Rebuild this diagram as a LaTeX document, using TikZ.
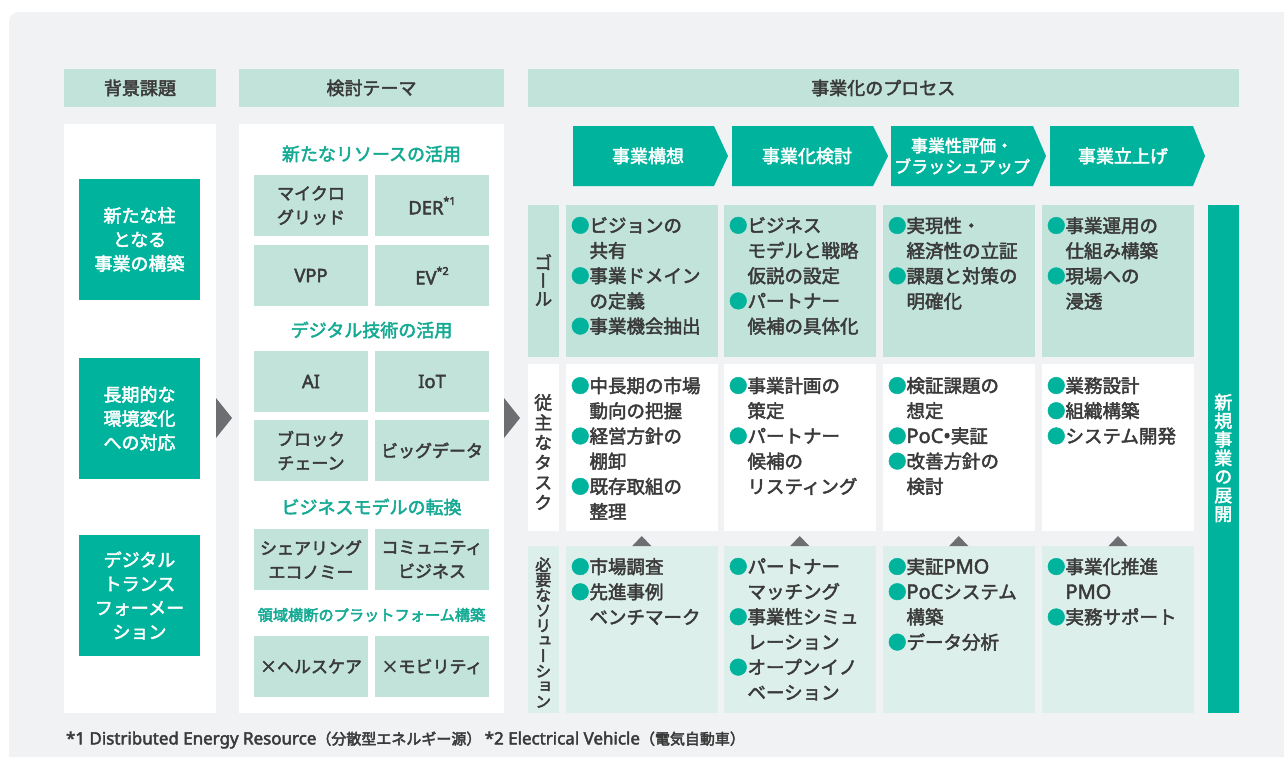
\documentclass[tikz,border=0pt]{standalone}
\usepackage{fontspec}
\usepackage{graphicx}
\setmainfont{Noto Sans CJK JP}
\newfontfamily\lat{Noto Sans}[Scale=1.08]
\newfontfamily\vjp{Noto Sans CJK JP}[RawFeature=+vert]
\definecolor{cTeal}{HTML}{00B39D}
\definecolor{cMint}{HTML}{C1E3DA}
\definecolor{cLight}{HTML}{DDEFEA}
\definecolor{cPanel}{HTML}{F0F2F4}
\definecolor{cText}{HTML}{3A3A3A}
\definecolor{cGrey}{HTML}{6D6E71}
\definecolor{cTealText}{HTML}{14AA93}
\newcommand\fs[2]{\fontsize{#1}{#2}\selectfont}
\newcommand\bl{\textcolor{cTeal}{●}}
\newcommand\ii{\hspace*{1em}}
\newcommand\mysup[1]{\raisebox{0.55em}{\fs{10}{10}\lat #1}}
\newcommand\emb{\special{pdf:literal direct 2 Tr 0.45 w}}
\tikzset{
  every node/.style={inner sep=0pt, outer sep=0pt, execute at begin node={\emb}},
  hdr/.style={fill=cMint, text=cText, font=\fs{18}{22}, minimum height=38pt},
  gbox/.style={fill=cTeal, text=white, align=center, font=\fs{18}{24}, minimum width=121pt, minimum height=121pt},
  sbox/.style={fill=cMint, text=cText, align=center, font=\fs{17}{24}, minimum width=114pt, minimum height=61pt},
  subhd/.style={text=cTealText, font=\fs{18}{22}},
  cellbox/.style={minimum width=151.5pt},
  txt/.style={anchor=north west, align=left, text=cText, font=\fs{18.5}{25.2}},
  vlab/.style={align=center, text=cText},
  chevtxt/.style={text=white, align=center, font=\fs{18}{21}},
}
\begin{document}
\begin{tikzpicture}[x=1pt,y=-1pt]
\useasboundingbox (0,0) rectangle (1284,758);
\fill[white] (0,0) rectangle (1284,758);
\fill[cPanel] (9,757) [rounded corners=10pt] -- (9,12) [sharp corners] -- (1284,12) -- (1284,757) -- cycle;

% headers
\node[hdr, minimum width=152pt] (h1) at (140,88) {背景課題};
\node[hdr, minimum width=265pt] (h2) at (371.5,88) {検討テーマ};
\node[hdr, minimum width=710.5pt] (h3) at (883.25,88) {事業化のプロセス};

% white columns
\node[fill=white, minimum width=152pt, minimum height=589pt] (c1) at (140,418.5) {};
\node[fill=white, minimum width=265pt, minimum height=589pt] (c2) at (371.5,418.5) {};

% background issues
\node[gbox] (g1) at (139.5,239.5) {新たな柱\\となる\\事業の構築};
\node[gbox] (g2) at (139.5,418.5) {長期的な\\環境変化\\への対応};
\node[gbox] (g3) at (139.5,595.5) {デジタル\\トランス\\フォーメー\\ション};

% themes
\node[subhd] (s1) at (371.5,154) {新たなリソースの活用};
\node[subhd] (s2) at (371.5,330) {デジタル技術の活用};
\node[subhd] (s3) at (371.5,507) {ビジネスモデルの転換};
\node[subhd, font=\fs{15.2}{18}] (s4) at (371.5,615) {領域横断のプラットフォーム構築};

\node[sbox] (b1) at (311,205.5) {マイクロ\\グリッド};
\node[sbox] (b2) at (432,205.5) {{\lat DER}\mysup{*1}};
\node[sbox] (b3) at (311,275.5) {{\lat VPP}};
\node[sbox] (b4) at (432,275.5) {{\lat EV}\mysup{*2}};
\node[sbox] (b5) at (311,381.5) {{\lat AI}};
\node[sbox] (b6) at (432,381.5) {{\lat IoT}};
\node[sbox] (b7) at (311,450.5) {ブロック\\チェーン};
\node[sbox] (b8) at (432,450.5) {ビッグデータ};
\node[sbox] (b9) at (311,559.5) {シェアリング\\エコノミー};
\node[sbox] (b10) at (432,559.5) {コミュニティ\\ビジネス};
\node[sbox] (b11) at (311,666.5) {×ヘルスケア};
\node[sbox] (b12) at (432,666.5) {×モビリティ};

% big arrows
\fill[cGrey] (216,398) -- (232,418) -- (216,438) -- cycle;
\fill[cGrey] (504,398) -- (520,418) -- (504,438) -- cycle;

% chevrons
\fill[cTeal] (573,126) -- (714,126) -- (728,156) -- (714,186) -- (573,186) -- cycle;
\fill[cTeal] (732,126) -- (873,126) -- (888,156) -- (873,186) -- (732,186) -- cycle;
\fill[cTeal] (891,126) -- (1033,126) -- (1046,156) -- (1033,186) -- (891,186) -- cycle;
\fill[cTeal] (1050,126) -- (1193,126) -- (1205,156) -- (1193,186) -- (1050,186) -- cycle;
\node[chevtxt] (p1) at (648,156) {事業構想};
\node[chevtxt] (p2) at (807,156) {事業化検討};
\node[chevtxt, font=\fs{17}{21}] (p3) at (962,156) {事業性評価・\\ブラッシュアップ};
\node[chevtxt] (p4) at (1123,156) {事業立上げ};

% row labels
\node[fill=cMint, minimum width=30.5pt, minimum height=151.7pt] (rg) at (543.25,280.85) {};
\node[fill=white, minimum width=30.5pt, minimum height=167pt] (rt) at (543.25,447.5) {};
\node[fill=cLight, minimum width=30.5pt, minimum height=166.7pt] (rs) at (543.25,629.35) {};
\node[vlab, font=\vjp\fs{18}{18}] (lg) at (543.25,280) {ゴ\\ー\\ル};
\node[vlab, font=\vjp\fs{18}{20}] (lt) at (543.25,452) {従\\主\\な\\タ\\ス\\ク};
\node[vlab, font=\vjp\fs{16}{15.2}] (ls) at (543.25,632.5) {必\\要\\な\\ソ\\リ\\ュ\\ー\\シ\\ョ\\ン};

% right bar
\node[fill=cTeal, minimum width=30.5pt, minimum height=507.7pt] (nb) at (1223.25,458.85) {};
\node[vlab, text=white, font=\vjp\fs{18}{18.6}] (nbt) at (1223.25,458) {新\\規\\事\\業\\の\\展\\開};

% cells
\foreach \cx [count=\i] in {641.75,799.75,958.75,1118} {
  \node[cellbox, fill=cMint, minimum height=151.7pt] (g\i c) at (\cx,280.85) {};
  \node[cellbox, fill=white, minimum height=167pt] (t\i c) at (\cx,447.5) {};
  \node[cellbox, fill=cLight, minimum height=166.7pt] (s\i c) at (\cx,629.35) {};
  \fill[cGrey] (\cx-9.5,546) -- (\cx,536) -- (\cx+9.5,546) -- cycle;
}

% goal texts
\node[txt] (gt1) at (571,217) {\bl ビジョンの\\\ii 共有\\\bl 事業ドメイン\\\ii の定義\\\bl 事業機会抽出};
\node[txt] (gt2) at (729,217) {\bl ビジネス\\\ii モデルと戦略\\\ii 仮説の設定\\\bl パートナー\\\ii 候補の具体化};
\node[txt] (gt3) at (888,217) {\bl 実現性・\\\ii 経済性の立証\\\bl 課題と対策の\\\ii 明確化};
\node[txt] (gt4) at (1047,217) {\bl 事業運用の\\\ii 仕組み構築\\\bl 現場への\\\ii 浸透};

% task texts
\node[txt] (tt1) at (571,377) {\bl 中長期の市場\\\ii 動向の把握\\\bl 経営方針の\\\ii 棚卸\\\bl 既存取組の\\\ii 整理};
\node[txt] (tt2) at (729,377) {\bl 事業計画の\\\ii 策定\\\bl パートナー\\\ii 候補の\\\ii リスティング};
\node[txt] (tt3) at (888,377) {\bl 検証課題の\\\ii 想定\\\bl{\lat PoC•}実証\\\bl 改善方針の\\\ii 検討};
\node[txt] (tt4) at (1047,377) {\bl 業務設計\\\bl 組織構築\\\bl システム開発};

% solution texts
\node[txt] (st1) at (571,558) {\bl 市場調査\\\bl 先進事例\\\ii ベンチマーク};
\node[txt] (st2) at (729,558) {\bl パートナー\\\ii マッチング\\\bl 事業性シミュ\\\ii レーション\\\bl オープンイノ\\\ii ベーション};
\node[txt] (st3) at (888,558) {\bl 実証{\lat PMO}\\\bl{\lat PoC}システム\\\ii 構築\\\bl データ分析};
\node[txt] (st4) at (1047,558) {\bl 事業化推進\\\ii{\lat PMO}\\\bl 実務サポート};

% footnote
\node[anchor=west, text=cText, font=\fs{15}{18}] (fn) at (66,740) {{\lat\fs{15.7}{18}*1 Distributed Energy Resource}（分散型エネルギー源） {\lat\fs{15.7}{18}*2 Electrical Vehicle}（電気自動車）};
\end{tikzpicture}
\end{document}
